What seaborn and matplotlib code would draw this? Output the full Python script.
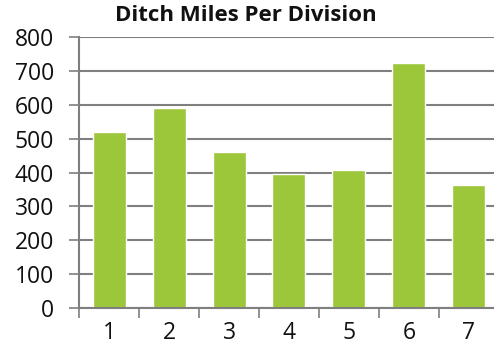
import matplotlib
matplotlib.use("Agg")
import matplotlib.pyplot as plt
import seaborn as sns
import pandas as pd
import numpy as np

divisions = ["1", "2", "3", "4", "5", "6", "7"]
miles = [520, 589, 461, 396, 407, 722, 363]
y_ticks = [0, 100, 200, 300, 400, 500, 600, 700, 800]
title = "Ditch Miles Per Division"

sns.set_theme(style="white")
plt.rcParams['font.family'] = ['Open Sans', 'DejaVu Sans']

df = pd.DataFrame({"Division": divisions, "Miles": miles})

fig = plt.figure(figsize=(4.94, 3.45), dpi=100)
ax = fig.add_axes([0.16, 0.107, 0.85, 0.786])

for y in y_ticks:
    ax.axhline(y, color="#7f7f7f", lw=1.5, zorder=0)

sns.barplot(data=df, x="Division", y="Miles", color="#9dc73a", saturation=1,
            width=0.55, ax=ax, zorder=2)

ax.set_ylim(0, 800)
ax.set_xlim(-0.5, 6.5)
ax.set_yticks(y_ticks)
ax.set_yticklabels([str(v) for v in y_ticks], fontsize=16.5, color="#111111")
ax.set_xticks(range(len(divisions)))
ax.set_xticklabels(divisions, fontsize=16.5, color="#111111")
ax.set_xticks(np.arange(-0.5, 7, 1), minor=True)
ax.tick_params(axis="x", which="major", length=0, pad=9)
ax.tick_params(axis="x", which="minor", length=7, color="#7f7f7f", width=1.2, direction="out", bottom=True)
ax.tick_params(axis="y", length=7, color="#7f7f7f", width=1.2, direction="out", left=True, pad=11)
ax.set_xlabel("")
ax.set_ylabel("")
for s in ["top", "right"]:
    ax.spines[s].set_visible(False)
ax.spines["left"].set_color("#7f7f7f")
ax.spines["left"].set_linewidth(1.5)
ax.spines["bottom"].set_color("#7f7f7f")
ax.spines["bottom"].set_linewidth(1.5)

fig.text(0.497, 0.955, title, ha="center", va="center", fontsize=16,
         fontweight="bold", color="#111111")

fig.savefig("out.png", dpi=100)
